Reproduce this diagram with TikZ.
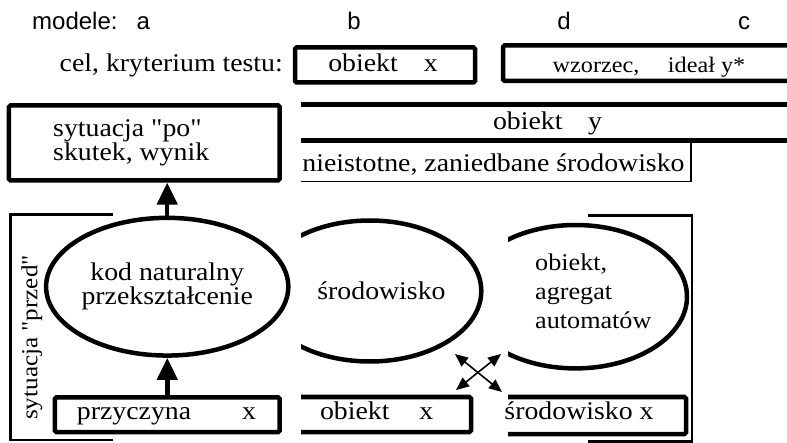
\documentclass[tikz,border=0pt]{standalone}
\usepackage{fontspec}
\setmainfont{Liberation Serif}[FakeStretch=1.09]
\newfontfamily\serifplain{Liberation Serif}[FakeStretch=1.09]
\setsansfont{Liberation Sans}
\usetikzlibrary{shapes.geometric,arrows.meta}
\tikzset{
  thickline/.style={line width=4.5pt},
  thickbox/.style={draw, line width=4.5pt, rounded corners=1.5pt, inner sep=0pt},
  ell/.style={draw, ellipse, line width=4.5pt, inner sep=0pt, minimum width=222.3pt, minimum height=137.7pt},
  txt/.style={inner sep=0pt, font=\serifplain\fontsize{25.5}{23}\selectfont},
  midtxt/.style={inner sep=0pt, font=\serifplain\fontsize{24}{29}\selectfont},
  smalltxt/.style={inner sep=0pt, font=\serifplain\fontsize{22.2}{24}\selectfont},
  sanstxt/.style={inner sep=0pt, font=\sffamily\fontsize{24}{26}\selectfont},
  bracket/.style={line width=2.5pt},
  thinline/.style={line width=1.3pt},
  bigarrow/.style={line width=4.5pt, -{Triangle[width=20pt,length=22pt]}},
  xarrow/.style={line width=1.6pt, {Triangle[width=11pt,length=13pt]}-{Triangle[width=11pt,length=13pt]}},
}
\begin{document}
\begin{tikzpicture}[x=1pt,y=-1pt]
\useasboundingbox (0,0) rectangle (787,443);
\clip (0,0) rectangle (787,443);

% header labels
\node (mod) [sanstxt, anchor=base west] at (32,29.5) {modele:};
\node (la) [sanstxt, anchor=base] at (143.3,29.5) {a};
\node (lb) [sanstxt, anchor=base] at (354,29.5) {b};
\node (ld) [sanstxt, anchor=base] at (564,29.5) {d};
\node (lc) [sanstxt, anchor=base] at (744,29.5) {c};

% goal row
\node (cel) [txt, anchor=base east] at (283,71.7) {cel, kryterium testu:};
\node (obtop) [thickbox, minimum width=180pt, minimum height=35pt] at (385,65) {};
\node (obtopt) [txt, anchor=base] at (383,72) {obiekt\hspace{26pt}x};
\draw[thickline, rounded corners=1.5pt] (810,45.5) -| (503,81) -- (810,81);
\node (wz) [smalltxt, anchor=base] at (649,72.5) {wzorzec,\hspace{28.6pt}ideał y*};

% obiekt y band
\draw[thickline] (301,104.7) -- (800,104.7);
\draw[thickline] (301,140.5) -- (800,140.5);
\node (oby) [txt, anchor=base] at (547.5,130) {obiekt\hspace{25.5pt}y};
\draw[thinline] (301,181.7) -- (691,181.7) -- (691,141);
\node (nie) [txt, anchor=base] at (493.5,172) {nieistotne, zaniedbane środowisko};

% po box
\node (po) [thickbox, minimum width=270.7pt, minimum height=74.8pt] at (144.3,142.9) {};
\node (pot) [txt, align=left, anchor=west] at (53,142.6) {sytuacja "po"\\skutek, wynik};

% ellipse 1
\node (e1) [ell, align=center, font=\serifplain\fontsize{25.5}{24}\selectfont] at (167.2,286.7) {kod naturalny\\przekształcenie};

% przyczyna box
\node (prz) [thickbox, minimum width=224.7pt, minimum height=34.7pt] at (167.3,414.7) {};
\node (przt) [txt, anchor=base] at (166.5,420) {przyczyna\hspace{51pt}x};

% arrows
\draw[bigarrow] (prz.north) -- (prz.north |- e1.south);
\draw[bigarrow] (e1.north) -- (e1.north |- po.south);

% left bracket
\draw[bracket] (113,214.3) -| (10.5,440) -- (113,440);
\node (przed) [inner sep=0pt, font=\serifplain\fontsize{23}{24}\selectfont, rotate=90] at (32,337.5) {sytuacja "przed"};

% middle column (clipped on the left)
\begin{scope}
\clip (301,0) rectangle (787,443);
\node (e2) [ell, minimum width=223pt, minimum height=141pt] at (369.8,291) {};
\node (obx) [thickbox, minimum width=224.7pt, minimum height=35pt] at (358.65,414.5) {};
\end{scope}
\node (e2t) [txt, anchor=base] at (381.5,300) {środowisko};
\node (obxt) [txt, anchor=base] at (376.7,420) {obiekt\hspace{30pt}x};

% right column (clipped on the left)
\begin{scope}
\clip (508,0) rectangle (787,443);
\node (e3) [ell, minimum width=223pt, minimum height=143.4pt] at (575.5,296.7) {};
\node (srx) [thickbox, minimum width=224.7pt, minimum height=37pt] at (573.65,415.5) {};
\end{scope}
\node (e3t) [midtxt, align=left, anchor=west] at (535,291) {obiekt,\\agregat\\automatów};
\node (srxt) [txt, anchor=base] at (579,420) {środowisko x};

% right bracket
\draw[bracket] (588,215.3) -| (692,441.5) -- (588,441.5);

% cross arrows
\coordinate (xa1) at (455,354);
\coordinate (xa2) at (502,392);
\coordinate (xb1) at (501,354);
\coordinate (xb2) at (456,390);
\draw[xarrow] (xa1) -- (xa2);
\draw[xarrow] (xb1) -- (xb2);
\end{tikzpicture}
\end{document}
